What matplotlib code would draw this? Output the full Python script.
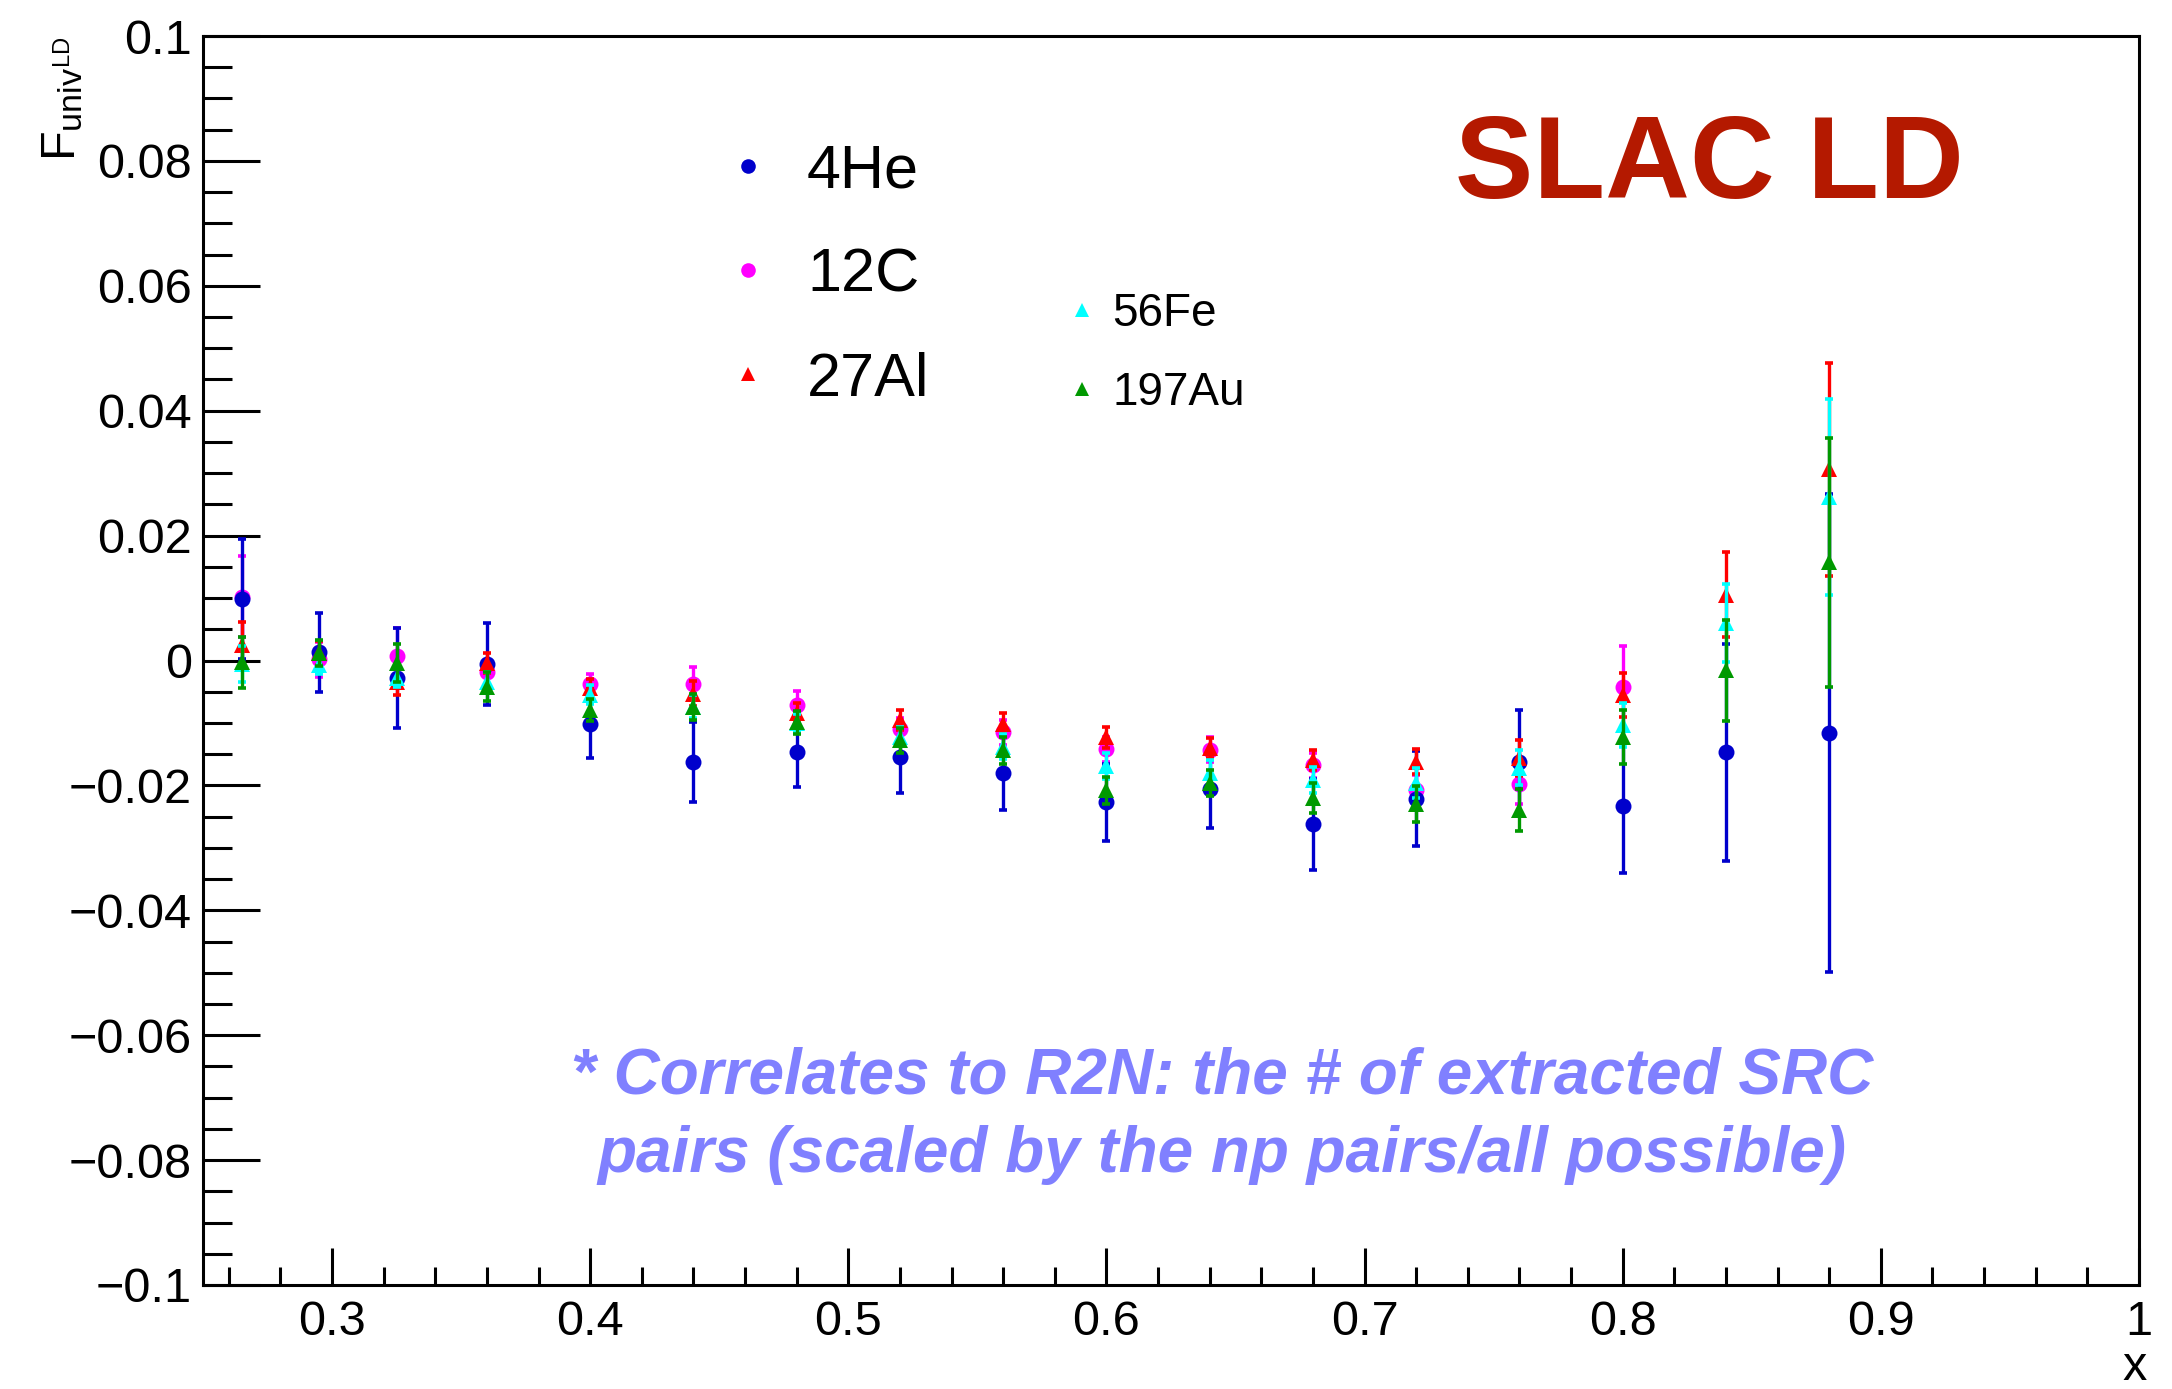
import matplotlib
matplotlib.use("Agg")
import matplotlib.pyplot as plt
from matplotlib.lines import Line2D
import numpy as np

# ---------------- data ----------------
x_all = [0.265, 0.295, 0.325, 0.36, 0.40, 0.44, 0.48, 0.52, 0.56, 0.60,
         0.64, 0.68, 0.72, 0.76, 0.80, 0.84, 0.88]

he4_y = [0.0099, 0.0013, -0.0028, -0.0006, -0.0101, -0.0162, -0.0146, -0.0155, -0.0180,
         -0.0227, -0.0206, -0.0262, -0.0221, -0.0162, -0.0233, -0.0147, -0.0116]
he4_err = [0.0096, 0.0063, 0.0080, 0.0066, 0.0055, 0.0064, 0.0057, 0.0057, 0.0059,
           0.0062, 0.0063, 0.0073, 0.0076, 0.0083, 0.0108, 0.0174, 0.0382]

c12_x = x_all[:15]
c12_y = [0.0102, 0.0002, 0.0008, -0.0019, -0.0038, -0.0037, -0.0071, -0.0110, -0.0115,
         -0.0142, -0.0143, -0.0168, -0.0207, -0.0197, -0.0042]
c12_err = [0.0065, 0.0028, 0.0044, 0.0020, 0.0017, 0.0027, 0.0022, 0.0018, 0.0020,
           0.0020, 0.0020, 0.0020, 0.0024, 0.0033, 0.0066]

al27_y = [0.0025, 0.0012, -0.0034, -0.0004, -0.0044, -0.0053, -0.0084, -0.0095, -0.0101,
          -0.0123, -0.0140, -0.0159, -0.0162, -0.0156, -0.0055, 0.0105, 0.0306]
al27_err = [0.0037, 0.0020, 0.0022, 0.0016, 0.0015, 0.0020, 0.0016, 0.0016, 0.0017,
            0.0017, 0.0016, 0.0016, 0.0020, 0.0029, 0.0035, 0.0068, 0.0170]

fe56_y = [-0.0006, -0.0007, -0.0028, -0.0034, -0.0055, -0.0074, -0.0100, -0.0122, -0.0138,
          -0.0169, -0.0180, -0.0191, -0.0196, -0.0172, -0.0103, 0.0060, 0.0262]
fe56_err = [0.0029, 0.0015, 0.0015, 0.0015, 0.0015, 0.0018, 0.0015, 0.0015, 0.0020,
            0.0021, 0.0020, 0.0021, 0.0024, 0.0028, 0.0035, 0.0063, 0.0157]

au197_y = [-0.0003, 0.0012, -0.0004, -0.0042, -0.0079, -0.0075, -0.0099, -0.0128, -0.0144,
           -0.0208, -0.0196, -0.0220, -0.0230, -0.0239, -0.0122, -0.0016, 0.0157]
au197_err = [0.0041, 0.0021, 0.0030, 0.0023, 0.0018, 0.0021, 0.0018, 0.0020, 0.0021,
             0.0022, 0.0021, 0.0024, 0.0029, 0.0034, 0.0043, 0.0081, 0.0200]

series_names = ["4He", "12C", "27Al", "56Fe", "197Au"]
series_colors = ["#0000cc", "#ff00ff", "#ff0000", "#00ffff", "#009900"]
series_markers = ["o", "o", "^", "^", "^"]

x_ticks = [0.3, 0.4, 0.5, 0.6, 0.7, 0.8, 0.9, 1.0]
x_tick_labels = ["0.3", "0.4", "0.5", "0.6", "0.7", "0.8", "0.9", "1"]
y_ticks = [-0.1, -0.08, -0.06, -0.04, -0.02, 0.0, 0.02, 0.04, 0.06, 0.08, 0.1]
y_tick_labels = ["\u22120.1", "\u22120.08", "\u22120.06", "\u22120.04", "\u22120.02", "0",
                 "0.02", "0.04", "0.06", "0.08", "0.1"]

title_text = "SLAC LD"
note_lines = ["* Correlates to R2N: the # of extracted SRC",
              "pairs (scaled by the np pairs/all possible)"]

# ---------------- style ----------------
plt.rcParams["font.family"] = ["Liberation Sans", "DejaVu Sans"]
plt.rcParams["mathtext.fontset"] = "custom"
plt.rcParams["mathtext.rm"] = "Liberation Sans"
plt.rcParams["mathtext.it"] = "Liberation Sans"
plt.rcParams["mathtext.bf"] = "Liberation Sans:bold"

W, H = 2172, 1389
fig = plt.figure(figsize=(W / 100, H / 100), dpi=100)
ax_l, ax_r, ax_t, ax_b = 203, 2139, 36, 1285
ax = fig.add_axes([ax_l / W, 1 - ax_b / H, (ax_r - ax_l) / W, (ax_b - ax_t) / H])

def fx(px):
    return px / W

def fy(py):
    return 1 - py / H

# ---------------- data drawing ----------------
datasets = [
    (x_all, he4_y, he4_err),
    (c12_x, c12_y, c12_err),
    (x_all, al27_y, al27_err),
    (x_all, fe56_y, fe56_err),
    (x_all, au197_y, au197_err),
]
zorders = [4, 3, 5, 6, 7]
for (xs, ys, es), col, mk, z in zip(datasets, series_colors, series_markers, zorders):
    cont = ax.errorbar(xs, ys, yerr=es, fmt=mk, color=col, ecolor=col, markersize=11.5,
                       elinewidth=2.4, capsize=3.0, capthick=2.6, zorder=z)
    cont[0].set_markeredgewidth(0)

ax.set_xlim(0.25, 1.0)
ax.set_ylim(-0.1, 0.1)

ax.set_xticks(x_ticks)
ax.set_xticklabels(x_tick_labels)
ax.set_xticks(np.arange(0.26, 1.0, 0.02), minor=True)
ax.set_yticks(y_ticks)
ax.set_yticklabels(y_tick_labels)
ax.set_yticks(np.arange(-0.1, 0.1001, 0.005), minor=True)

ax.tick_params(axis="both", which="both", direction="in", width=2.2, color="black",
               top=False, right=False, labelsize=35)
ax.tick_params(axis="y", which="major", length=41, pad=8)
ax.tick_params(axis="y", which="minor", length=21)
ax.tick_params(axis="x", which="major", length=26.5, pad=11)
ax.tick_params(axis="x", which="minor", length=13)
for sp in ax.spines.values():
    sp.set_linewidth(2.2)

# axis titles
fig.text(fx(75), fy(36), r"$F_{univ^{LD}}$", rotation=90, rotation_mode="anchor",
         ha="right", va="baseline", fontsize=35)
fig.text(fx(2147), fy(1380), "x", ha="right", va="baseline", fontsize=35)

# big title
fig.text(fx(1455), fy(198), title_text, ha="left", va="baseline", fontsize=84.5,
         fontweight="bold", color="#b41900")

# note
fig.text(fx(1222), fy(1093), note_lines[0], ha="center", va="baseline", fontsize=46,
         fontweight="bold", fontstyle="italic", color="#8080ff")
fig.text(fx(1222), fy(1172), note_lines[1], ha="center", va="baseline", fontsize=46,
         fontweight="bold", fontstyle="italic", color="#8080ff")

# legend (two groups)
leg_pos = [(748, 166, 807, 188, 44, 10.5),
           (748, 270, 807, 292, 44, 10.5),
           (748, 374, 807, 396, 44, 9.5),
           (1082, 310, 1112, 326, 33, 9.5),
           (1082, 389, 1112, 405, 33, 9.5)]
for name, col, mk, (mx, my, tx, ty, fs, ms) in zip(series_names, series_colors,
                                                    series_markers, leg_pos):
    fig.add_artist(Line2D([fx(mx)], [fy(my)], marker=mk, color=col, markersize=ms,
                          markeredgewidth=0, linestyle="none", transform=fig.transFigure))
    fig.text(fx(tx), fy(ty), name, ha="left", va="baseline", fontsize=fs)

fig.savefig("out.png", dpi=100)
